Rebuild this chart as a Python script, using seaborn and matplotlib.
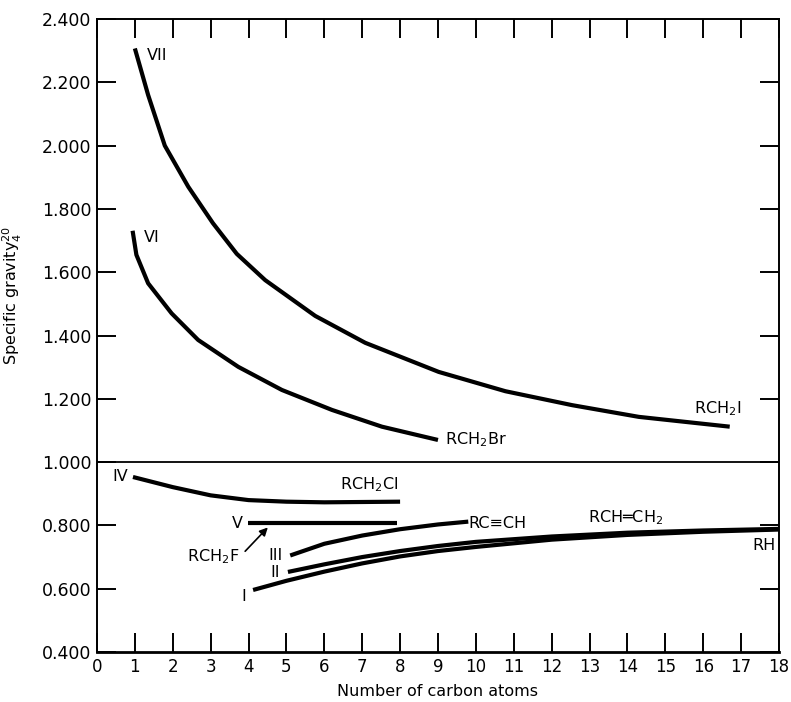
import matplotlib
matplotlib.use("Agg")
import matplotlib.pyplot as plt
import seaborn as sns
import pandas as pd

# ---- data ----
vii_x = [1.0, 1.35, 1.79, 2.41, 3.06, 3.69, 4.44, 5.76, 7.08, 9.02, 10.78, 12.54, 14.3, 16.7]
vii_y = [2.307, 2.160, 2.000, 1.870, 1.755, 1.658, 1.575, 1.462, 1.377, 1.285, 1.224, 1.180, 1.143, 1.112]

vi_x = [0.94, 1.04, 1.35, 1.97, 2.67, 3.73, 4.88, 6.2, 7.52, 9.0]
vi_y = [1.731, 1.655, 1.565, 1.47, 1.386, 1.301, 1.228, 1.165, 1.112, 1.07]

iv_x = [0.95, 2, 3, 4, 5, 6, 7, 8]
iv_y = [0.953, 0.921, 0.895, 0.880, 0.875, 0.873, 0.874, 0.875]

v_x = [3.98, 7.92]
v_y = [0.809, 0.809]

iii_x = [5.1, 6, 7, 8, 9, 9.8]
iii_y = [0.705, 0.742, 0.768, 0.788, 0.803, 0.812]

ii_x = [5.04, 6, 7, 8, 9, 10, 12, 14, 16, 18]
ii_y = [0.653, 0.677, 0.700, 0.719, 0.735, 0.748, 0.765, 0.777, 0.784, 0.789]

i_x = [4.12, 5, 6, 7, 8, 9, 10, 12, 14, 16, 18]
i_y = [0.596, 0.625, 0.654, 0.680, 0.702, 0.719, 0.732, 0.755, 0.770, 0.780, 0.787]

x_ticks = list(range(0, 19))
y_ticks = [0.4, 0.6, 0.8, 1.0, 1.2, 1.4, 1.6, 1.8, 2.0, 2.2, 2.4]
y_tick_labels = ["0.400", "0.600", "0.800", "1.000", "1.200", "1.400",
                 "1.600", "1.800", "2.000", "2.200", "2.400"]

series = {
    "VII": (vii_x, vii_y),
    "VI": (vi_x, vi_y),
    "IV": (iv_x, iv_y),
    "V": (v_x, v_y),
    "III": (iii_x, iii_y),
    "II": (ii_x, ii_y),
    "I": (i_x, i_y),
}
frames = []
for name, (xs, ys) in series.items():
    frames.append(pd.DataFrame({"x": xs, "y": ys, "curve": name}))
df = pd.concat(frames, ignore_index=True)

sns.set_style("ticks")
plt.rcParams["font.family"] = ["DejaVu Sans"]
plt.rcParams["text.color"] = "black"
plt.rcParams["axes.labelcolor"] = "black"

fig = plt.figure(figsize=(7.91, 7.02), dpi=100)
ax = fig.add_axes([0.1226, 0.0712, 0.8622, 0.9017])

for name in series:
    sub = df[df["curve"] == name]
    sns.lineplot(data=sub, x="x", y="y", ax=ax, color="black", linewidth=3.0,
                 sort=False, estimator=None, legend=False,
                 solid_joinstyle="round", solid_capstyle="butt")

ax.axhline(1.0, color="black", linewidth=1.3)

ax.set_xlim(0, 18)
ax.set_ylim(0.4, 2.4)
ax.set_xticks(x_ticks)
ax.set_xticklabels([str(t) for t in x_ticks], fontsize=12)
ax.set_yticks(y_ticks)
ax.set_yticklabels(y_tick_labels, fontsize=12.5)
ax.tick_params(direction="in", length=14, width=1.4, top=True, right=True,
               labeltop=False, labelright=False, pad=4, colors="black")
for s in ax.spines.values():
    s.set_linewidth(1.4)
    s.set_color("black")
ax.spines["bottom"].set_linewidth(2.0)

ax.set_xlabel("Number of carbon atoms", fontsize=11.5, labelpad=6, color="black")
ax.set_ylabel(r"Specific gravity$^{20}_{4}$", fontsize=11.5, color="black")
ax.yaxis.set_label_coords(-0.107, 0.564)

fs = 11.5
ax.text(1.32, 2.286, "VII", fontsize=fs, ha="left", va="center")
ax.text(1.24, 1.71, "VI", fontsize=fs, ha="left", va="center")
ax.text(15.77, 1.17, r"RCH$_2$I", fontsize=fs, ha="left", va="center")
ax.text(9.18, 1.07, r"RCH$_2$Br", fontsize=fs, ha="left", va="center")
ax.text(0.82, 0.954, "IV", fontsize=fs, ha="right", va="center")
ax.text(6.41, 0.928, r"RCH$_2$Cl", fontsize=fs, ha="left", va="center")
ax.text(3.85, 0.806, "V", fontsize=fs, ha="right", va="center")
ax.text(3.77, 0.700, r"RCH$_2$F", fontsize=fs, ha="right", va="center")
ax.annotate("", xy=(4.56, 0.800), xytext=(3.86, 0.712),
            arrowprops=dict(arrowstyle="-|>", color="black", lw=1.2,
                            mutation_scale=12))
ax.text(4.9, 0.706, "III", fontsize=fs, ha="right", va="center")
ax.text(4.83, 0.651, "II", fontsize=fs, ha="right", va="center")
ax.text(3.88, 0.575, "I", fontsize=fs, ha="center", va="center")
ax.text(9.79, 0.805, "RC≡CH", fontsize=fs, ha="left", va="center")
ax.text(12.96, 0.825, r"RCH═CH$_2$", fontsize=fs, ha="left", va="center")
ax.text(17.9, 0.735, "RH", fontsize=fs, ha="right", va="center")

fig.savefig("out.png", dpi=100)
